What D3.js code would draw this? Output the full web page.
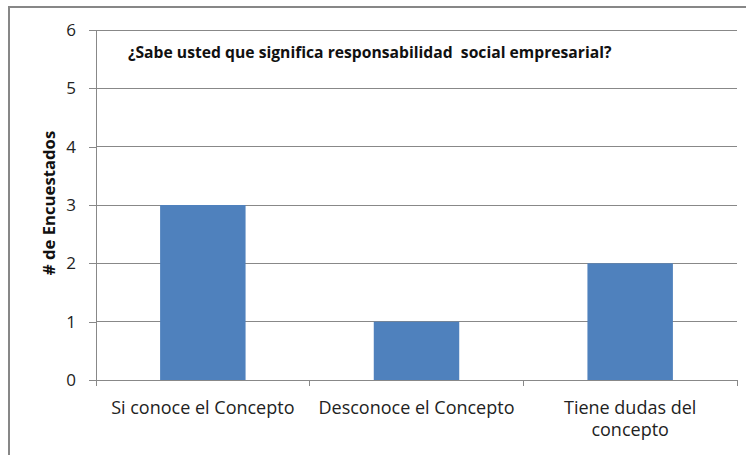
<!DOCTYPE html>
<html>
<head>
<meta charset="utf-8">
<script src="https://cdn.jsdelivr.net/npm/d3@7"></script>
<style>
  body { margin: 0; background: #fff; }
  svg { display: block; font-family: "Open Sans", sans-serif; }
</style>
</head>
<body>
<script>
const categories = ['Si conoce el Concepto', 'Desconoce el Concepto', 'Tiene dudas del concepto']
const catLines = [['Si conoce el Concepto'], ['Desconoce el Concepto'], ['Tiene dudas del', 'concepto']]
const counts = [3, 1, 2]
const yTicks = [0, 1, 2, 3, 4, 5, 6]
const title = '¿Sabe usted que significa responsabilidad  social empresarial?'
const yLabel = '# de Encuestados'

const W = 746, H = 455
const plot = { left: 96, top: 30, right: 737, bottom: 380 }

const svg = d3.select('body').append('svg')
  .attr('width', W)
  .attr('height', H)

// outer frame (only left and top visible in the crop)
svg.append('path')
  .attr('d', `M9,${H} L9,7 L${W},7`)
  .attr('fill', 'none')
  .attr('stroke', '#878787')
  .attr('stroke-width', 2)

const x = d3.scaleBand()
  .domain(categories)
  .range([plot.left, plot.right])
  .paddingInner(0.6)
  .paddingOuter(0.3)

const y = d3.scaleLinear()
  .domain([0, 6])
  .range([plot.bottom, plot.top])

// gridlines
svg.append('g')
  .selectAll('line')
  .data(yTicks.filter(d => d > 0))
  .join('line')
  .attr('x1', plot.left)
  .attr('x2', plot.right)
  .attr('y1', d => y(d))
  .attr('y2', d => y(d))
  .attr('stroke', '#888')
  .attr('stroke-width', 1)
  .attr('shape-rendering', 'crispEdges')

// bars
svg.append('g')
  .selectAll('rect')
  .data(counts)
  .join('rect')
  .attr('x', (d, i) => x(categories[i]))
  .attr('y', d => y(d))
  .attr('width', x.bandwidth())
  .attr('height', d => y(0) - y(d))
  .attr('fill', '#4F81BD')

// y axis
const yAxis = svg.append('g')
  .attr('transform', `translate(${plot.left},0)`)
  .call(d3.axisLeft(y).tickValues(yTicks).tickFormat(d3.format('d')).tickSize(7).tickPadding(13))
yAxis.select('.domain').attr('stroke', '#888').attr('shape-rendering', 'crispEdges')
yAxis.selectAll('.tick line').attr('stroke', '#888').attr('shape-rendering', 'crispEdges')
yAxis.selectAll('.tick text')
  .attr('font-size', 17)
  .attr('font-family', '"Open Sans", sans-serif')
  .attr('fill', '#222')

// x axis: baseline and boundary ticks between categories
const step = x.step()
const xAxis = svg.append('g')
xAxis.append('line')
  .attr('x1', plot.left).attr('x2', plot.right)
  .attr('y1', y(0)).attr('y2', y(0))
  .attr('stroke', '#888')
  .attr('shape-rendering', 'crispEdges')
xAxis.selectAll('line.tk')
  .data(d3.range(categories.length + 1))
  .join('line')
  .attr('class', 'tk')
  .attr('x1', i => plot.left + i * step)
  .attr('x2', i => plot.left + i * step)
  .attr('y1', y(0))
  .attr('y2', y(0) + 6)
  .attr('stroke', '#888')
  .attr('shape-rendering', 'crispEdges')

xAxis.selectAll('text.cat')
  .data(categories)
  .join('text')
  .attr('class', 'cat')
  .attr('x', d => x(d) + x.bandwidth() / 2)
  .attr('y', 414)
  .attr('text-anchor', 'middle')
  .attr('font-size', 18)
  .attr('fill', '#222')
  .each(function (d, i) {
    d3.select(this).selectAll('tspan')
      .data(catLines[i])
      .join('tspan')
      .attr('x', x(d) + x.bandwidth() / 2)
      .attr('dy', (t, j) => j === 0 ? 0 : 22)
      .text(t => t)
  })

// title
svg.append('text')
  .attr('x', 128)
  .attr('y', 58)
  .attr('font-size', 15.7)
  .attr('font-weight', 'bold')
  .attr('fill', '#111')
  .attr('xml:space', 'preserve')
  .style('white-space', 'pre')
  .text(title)

// y label
svg.append('text')
  .attr('transform', `translate(55,203) rotate(-90)`)
  .attr('text-anchor', 'middle')
  .attr('font-size', 16.7)
  .attr('font-weight', 'bold')
  .attr('fill', '#111')
  .text(yLabel)
</script>
</body>
</html>
